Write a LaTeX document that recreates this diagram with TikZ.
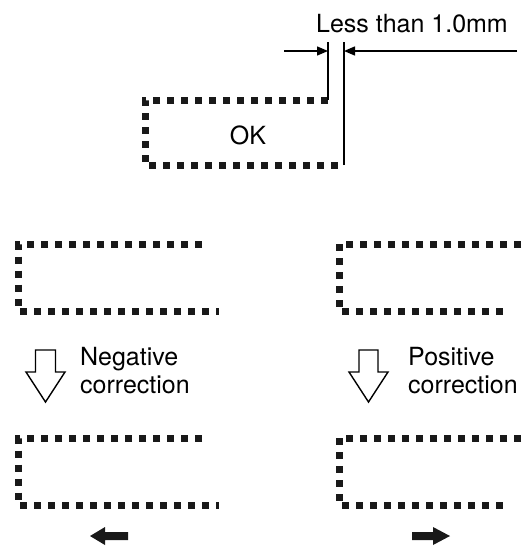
\documentclass[tikz,border=0pt]{standalone}
\usepackage{fontspec}
\setmainfont{TeX Gyre Heros}
\usetikzlibrary{arrows.meta}
\begin{document}
\begin{tikzpicture}[x=1pt,y=-1pt,
  dotline/.style={line width=7pt,dash pattern=on 7pt off 7pt,black!90},
  dimline/.style={line width=1.4pt},
  dimarrow/.style={line width=1.4pt,-{Triangle[length=11pt,width=9pt]}},
  hollowarrow/.style={draw,line width=1.4pt,fill=white,line join=miter},
  solidarrow/.style={fill=black!90},
  lbl/.style={inner sep=0pt,font=\fontsize{25}{30}\selectfont},
  lblL/.style={lbl,anchor=base west}]
\useasboundingbox (0,0) rectangle (523,547);
\clip (0,0) rectangle (523,547);
% OK box
\coordinate (okTR) at (328,100);
\coordinate (okBR) at (344,165);
\coordinate (okTopL) at (328,42);
\coordinate (okTopR) at (344,42);
\draw[dotline] (328,100) -- (145,100) -- (145,165) -- (344,165);
\draw[dimline] (okTR) -- (okTopL);
\draw[dimline] (okBR) -- (okTopR);
\coordinate (la) at (284,51);
\coordinate (lb) at (328,51);
\coordinate (ra) at (517,51);
\coordinate (rb) at (344,51);
\draw[dimarrow] (la) -- (lb);
\draw[dimarrow] (ra) -- (rb);
\node[lbl,anchor=base] (less) at (412,32) {Less than 1.0mm};
\node[lbl,anchor=base] (ok) at (248,144) {OK};
% middle left
\draw[dotline] (202,244) -- (18.5,244) -- (18.5,311) -- (219,311);
% middle right
\draw[dotline] (535,244) -- (339,244) -- (339,311) -- (506,311);
% hollow arrows
\draw[hollowarrow] (35.5,350) -- (55.5,350) -- (55.5,372) -- (65,372) -- (45.5,402) -- (26,372) -- (35.5,372) -- cycle;
\draw[hollowarrow] (359,350) -- (378,350) -- (378,372) -- (388,372) -- (368.5,402) -- (349,372) -- (359,372) -- cycle;
\node[lblL] (neg1) at (80,365) {Negative};
\node[lblL] (neg2) at (80,393) {correction};
\node[lblL] (pos1) at (408,365) {Positive};
\node[lblL] (pos2) at (408,393) {correction};
% bottom left
\draw[dotline] (202,438) -- (18.5,438) -- (18.5,505) -- (219,505);
% bottom right
\draw[dotline] (535,438) -- (339,438) -- (339,505) -- (506,505);
% solid arrows
\fill[solidarrow] (90,536) -- (105,527) -- (105,532) -- (128,532) -- (128,540) -- (105,540) -- (105,545) -- cycle;
\fill[solidarrow] (450,536) -- (433,527) -- (433,532) -- (412,532) -- (412,540) -- (433,540) -- (433,545) -- cycle;
\end{tikzpicture}
\end{document}
